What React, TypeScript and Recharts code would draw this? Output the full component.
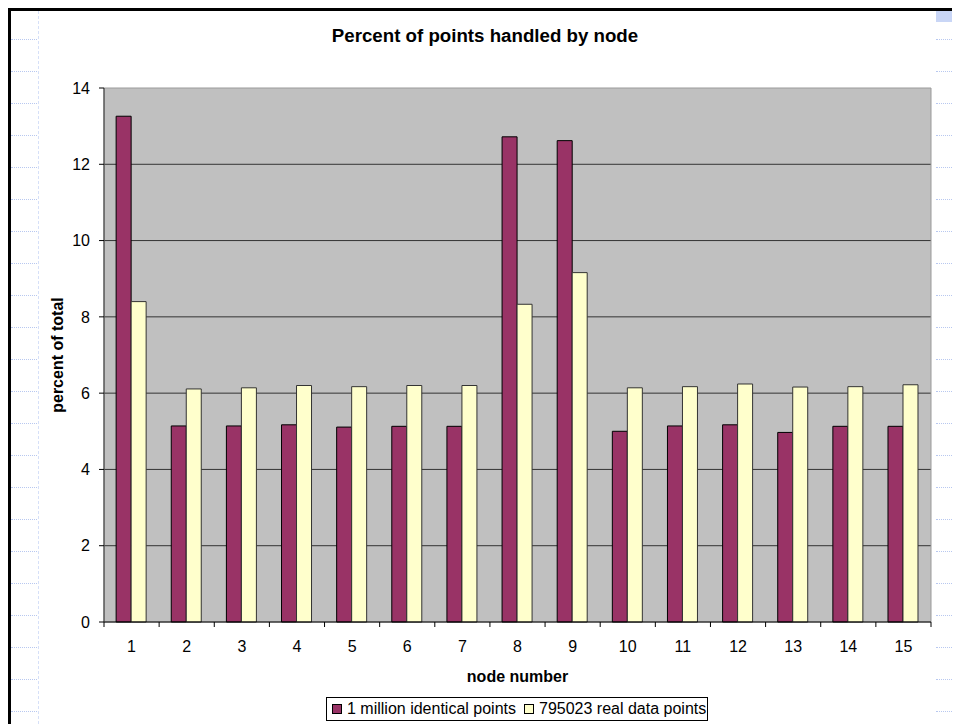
import React from 'react'
import { BarChart, Bar, XAxis, YAxis, CartesianGrid, Legend, ReferenceArea } from 'recharts'

const nodes = ['1', '2', '3', '4', '5', '6', '7', '8', '9', '10', '11', '12', '13', '14', '15']
const identicalPoints = [13.26, 5.14, 5.14, 5.17, 5.11, 5.13, 5.13, 12.72, 12.62, 5.0, 5.14, 5.17, 4.97, 5.13, 5.13]
const realPoints = [8.4, 6.11, 6.14, 6.2, 6.17, 6.2, 6.2, 8.33, 9.16, 6.14, 6.17, 6.24, 6.16, 6.17, 6.22]
const yTicks = [0, 2, 4, 6, 8, 10, 12, 14]
const gridValues = [2, 4, 6, 8, 10, 12]

const data = nodes.map((node, i) => ({ node, identical: identicalPoints[i], real: realPoints[i] }))

const FONT = "Arial, 'Liberation Sans', sans-serif"
const X_TICK_SIZE = 5
const X_TICK_MARGIN = 14

// tick marks sit on the category boundaries, labels in the middle
const NodeTick = (props: any) => {
  const { x, y, payload, index } = props
  const half = payload?.offset || 27.57
  const axisY = y - X_TICK_SIZE - X_TICK_MARGIN
  return (
    <g>
      <line x1={x - half} x2={x - half} y1={axisY} y2={axisY + X_TICK_SIZE} stroke="#000" />
      {index === nodes.length - 1 && (
        <line x1={x + half} x2={x + half} y1={axisY} y2={axisY + X_TICK_SIZE} stroke="#000" />
      )}
      <text x={x} y={y} dy="0.71em" textAnchor="middle" fontSize={16} fontFamily={FONT} fill="#000">
        {payload.value}
      </text>
    </g>
  )
}

const renderLegend = (props: any) => {
  const { payload } = props
  return (
    <div
      style={{
        border: '1px solid #000',
        height: 24,
        boxSizing: 'border-box',
        background: '#fff',
        display: 'flex',
        alignItems: 'center',
        paddingLeft: 5,
        gap: 8,
        fontFamily: FONT,
        fontSize: 16,
        color: '#000',
        whiteSpace: 'nowrap',
      }}
    >
      {(payload || []).map((entry: any) => (
        <span key={entry.value} style={{ display: 'flex', alignItems: 'center' }}>
          <span
            style={{
              display: 'inline-block',
              width: 8,
              height: 8,
              background: entry.color,
              border: '1px solid #000',
              marginRight: 5,
            }}
          />
          {entry.value}
        </span>
      ))}
    </div>
  )
}

const leftMarks = [31, 63, 95, 127, 159, 191, 223, 255, 287, 319, 351, 383, 415, 447, 479, 511, 543, 575, 607, 639, 671, 703]

const App: React.FC = () => (
  <div style={{ position: 'relative', width: 952, height: 716, background: '#fff', overflow: 'hidden' }}>
    <style>{'html,body{overflow:hidden}'}</style>
    {/* page-layout guides from the spreadsheet */}
    <div style={{ position: 'absolute', left: 30, top: 3, height: 713, borderLeft: '1px dashed #d6e0f8' }} />
    {leftMarks.map((t) => (
      <React.Fragment key={t}>
        <div style={{ position: 'absolute', left: 3, top: t, width: 26, borderTop: '1px dotted #b8c8f0' }} />
        <div style={{ position: 'absolute', left: 928, top: t, width: 24, borderTop: '1px dotted #b8c8f0' }} />
      </React.Fragment>
    ))}
    <div style={{ position: 'absolute', left: 928, top: 3, width: 24, height: 11, background: '#c9d6f6' }} />

    <div
      style={{
        position: 'absolute',
        left: 0,
        top: 17,
        width: 954,
        textAlign: 'center',
        fontFamily: FONT,
        fontWeight: 'bold',
        fontSize: 18.7,
        color: '#000',
      }}
    >
      Percent of points handled by node
    </div>

    <BarChart
      width={952}
      height={716}
      data={data}
      margin={{ top: 80, right: 29, left: 36, bottom: 40 }}
      barCategoryGap="22%"
      barGap={0}
    >
      <CartesianGrid vertical={false} horizontalValues={gridValues} stroke="#333" fill="#c0c0c0" fillOpacity={1} />
      <ReferenceArea y1={0} y2={14} fill="none" stroke="#9a9a9a" strokeWidth={1} />
      <XAxis
        dataKey="node"
        height={62}
        axisLine={{ stroke: '#000' }}
        tickLine={false}
        tickSize={X_TICK_SIZE}
        tickMargin={X_TICK_MARGIN}
        tick={<NodeTick />}
        interval={0}
        label={{
          value: 'node number',
          position: 'insideBottom',
          offset: 2,
          fontFamily: FONT,
          fontWeight: 'bold',
          fontSize: 16,
          fill: '#000',
        }}
      />
      <YAxis
        width={60}
        domain={[0, 14]}
        ticks={yTicks}
        interval={0}
        axisLine={{ stroke: '#333' }}
        tickLine={{ stroke: '#000' }}
        tickSize={5}
        tickMargin={9}
        tick={{ fontFamily: FONT, fontSize: 16, fill: '#000' }}
        label={{
          value: 'percent of total',
          angle: -90,
          position: 'insideLeft',
          offset: 13,
          style: { textAnchor: 'middle' },
          fontFamily: FONT,
          fontWeight: 'bold',
          fontSize: 16,
          fill: '#000',
        }}
      />
      <Legend
        layout="horizontal"
        verticalAlign="middle"
        align="center"
        content={renderLegend}
        wrapperStyle={{ left: 318, top: 689, width: 382, height: 25 }}
      />
      <Bar
        dataKey="identical"
        name="1 million identical points"
        fill="#993366"
        stroke="#000"
        strokeWidth={1}
        isAnimationActive={false}
      />
      <Bar
        dataKey="real"
        name="795023 real data points"
        fill="#ffffcc"
        stroke="#333"
        strokeWidth={1}
        isAnimationActive={false}
      />
    </BarChart>

    <div
      style={{
        position: 'absolute',
        left: 0,
        top: 0,
        width: 952,
        height: 716,
        borderTop: '3px solid #000',
        borderLeft: '3px solid #000',
        boxSizing: 'border-box',
        pointerEvents: 'none',
      }}
    />
  </div>
)

export default App
